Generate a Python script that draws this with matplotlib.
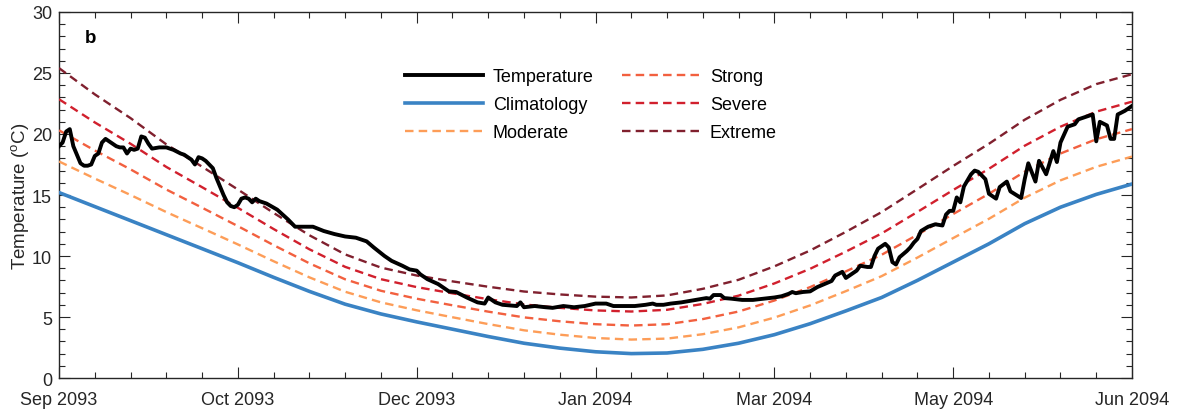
import numpy as np
import matplotlib
matplotlib.use("Agg")
import matplotlib.pyplot as plt
import matplotlib.dates as mdates
from matplotlib.ticker import MultipleLocator

plt.rcParams['font.family'] = ['Liberation Sans', 'DejaVu Sans']
plt.rcParams['mathtext.fontset'] = 'custom'
plt.rcParams['mathtext.rm'] = 'Liberation Sans'
plt.rcParams['mathtext.default'] = 'regular'

# daily series, days counted from 1 Sep 2093
start = np.datetime64('2093-09-01')

temp_day = [0, 1, 2, 3, 4, 5, 6, 7, 8, 9, 10, 11, 12, 13, 14, 15, 16, 17, 18, 19,
            20, 21, 22, 23, 24, 25, 26, 28, 30, 32, 34, 35, 36, 37, 38, 39, 40, 41,
            42, 43, 44, 45, 46, 47, 48, 49, 50, 51, 52, 53, 54, 55, 56, 58, 61, 64,
            66, 68, 71, 74, 77, 80, 83, 86, 88, 91, 93, 96, 98, 100, 101, 103, 106,
            109, 111, 114, 117, 119, 120, 122, 124, 128, 129, 130, 133, 136, 138,
            141, 144, 147, 150, 153, 155, 158, 161, 164, 166, 167, 169, 171, 174,
            178, 181, 182, 183, 185, 186, 188, 191, 194, 197, 200, 202, 204, 205,
            206, 208, 210, 212, 214, 216, 217, 219, 220, 221, 223, 224, 226, 227,
            228, 229, 231, 232, 233, 234, 235, 237, 238, 239, 240, 241, 243, 245,
            247, 248, 249, 250, 251, 252, 253, 255, 256, 257, 259, 260, 262, 263,
            265, 266, 269, 270, 271, 273, 274, 276, 278, 279, 280, 282, 284, 285,
            287, 289, 290, 291, 293, 294, 295, 296, 298, 300]
temp_val = [19.0, 19.3, 20.2, 20.4, 19.0, 18.3, 17.6, 17.4, 17.4, 17.5, 18.2, 18.4,
            19.3, 19.6, 19.4, 19.2, 19.0, 18.9, 18.9, 18.4, 18.8, 18.7, 18.8, 19.8,
            19.7, 19.2, 18.8, 18.9, 18.9, 18.7, 18.4, 18.3, 18.1, 17.9, 17.5, 18.1,
            18.0, 17.8, 17.5, 17.2, 16.4, 15.7, 15.0, 14.4, 14.1, 14.0, 14.2, 14.7,
            14.8, 14.7, 14.4, 14.7, 14.5, 14.3, 13.8, 13.0, 12.4, 12.4, 12.4, 12.05,
            11.8, 11.6, 11.5, 11.2, 10.7, 10.0, 9.6, 9.2, 8.9, 8.8, 8.5, 8.1, 7.7,
            7.1, 7.05, 6.6, 6.2, 6.1, 6.6, 6.2, 6.0, 5.9, 6.2, 5.8, 5.9, 5.8, 5.75,
            5.9, 5.8, 5.9, 6.1, 6.1, 5.9, 5.9, 5.9, 6.0, 6.1, 6.0, 6.0, 6.1, 6.2,
            6.4, 6.55, 6.5, 6.8, 6.8, 6.55, 6.5, 6.4, 6.4, 6.5, 6.6, 6.7, 6.9, 7.05,
            6.95, 7.05, 7.1, 7.45, 7.7, 7.95, 8.4, 8.7, 8.2, 8.4, 8.8, 9.2, 9.1, 9.1,
            10.0, 10.6, 11.0, 10.7, 9.5, 9.3, 9.9, 10.4, 10.7, 11.1, 11.4, 12.05,
            12.4, 12.6, 12.5, 13.4, 13.7, 13.7, 14.8, 14.4, 15.7, 16.7, 17.0, 16.9,
            16.3, 15.1, 14.7, 15.65, 16.1, 15.3, 14.75, 16.3, 17.6, 16.1, 17.8, 16.7,
            18.6, 17.7, 19.3, 20.6, 20.8, 21.2, 21.4, 21.6, 19.4, 21.0, 20.7, 19.6,
            19.6, 21.6, 21.9, 22.3]

# climatology and 90th percentile threshold every 10 days
clim_day = list(range(0, 301, 10))
clim_val = [15.2, 14.05, 12.9, 11.75, 10.6, 9.45, 8.25, 7.1, 6.05, 5.25, 4.6, 4.0,
            3.4, 2.85, 2.45, 2.15, 2.0, 2.05, 2.35, 2.85, 3.55, 4.45, 5.5, 6.6,
            8.0, 9.5, 11.0, 12.65, 14.0, 15.05, 15.9]
thresh_val = [17.75, 16.35, 15.0, 13.6, 12.28, 10.95, 9.57, 8.25, 7.07, 6.2, 5.55,
              4.98, 4.42, 3.91, 3.55, 3.28, 3.15, 3.23, 3.59, 4.15, 4.95, 5.95,
              7.12, 8.35, 9.87, 11.47, 13.05, 14.78, 16.2, 17.31, 18.15]

cat_names = ['Moderate', 'Strong', 'Severe', 'Extreme']
cat_colors = ['#fd9d58', '#f2603f', '#d1202d', '#80202e']

xtick_day = [0, 50, 100, 150, 200, 250, 300]

t_dates = start + np.array(temp_day).astype('timedelta64[D]')
c_dates = start + np.array(clim_day).astype('timedelta64[D]')
clim = np.array(clim_val)
diff = np.array(thresh_val) - clim

fig = plt.figure(figsize=(11.83, 4.10), dpi=100)
ax = fig.add_axes([0.0499, 0.0756, 0.907, 0.8927])

h_temp, = ax.plot(t_dates, temp_val, color='black', lw=2.8, label='Temperature', zorder=5)
h_clim, = ax.plot(c_dates, clim, color='#3a83c4', lw=2.6, label='Climatology', zorder=4)

# category lines: 1x, 2x, 3x, 4x the threshold-climatology difference
h_cat = []
for k, (name, col) in enumerate(zip(cat_names, cat_colors)):
    h, = ax.plot(c_dates, clim + (k + 1) * diff, color=col, lw=1.7,
                 dashes=(3.6, 2.2), label=name, zorder=3)
    h_cat.append(h)

ax.set_xlim(start, start + np.timedelta64(300, 'D'))
ax.set_ylim(0, 30)
ax.set_xticks(start + np.array(xtick_day).astype('timedelta64[D]'))
ax.xaxis.set_major_formatter(mdates.DateFormatter('%b %Y'))
minor = start + np.arange(0, 301, 10).astype('timedelta64[D]')
ax.set_xticks(minor, minor=True)
ax.yaxis.set_major_locator(MultipleLocator(5))
ax.yaxis.set_minor_locator(MultipleLocator(1))

axcol = '#262626'
ax.tick_params(which='both', direction='in', top=True, right=True,
               colors=axcol, labelsize=13, width=0.8)
ax.tick_params(which='major', length=8)
ax.tick_params(which='minor', length=4)
ax.tick_params(axis='x', which='major', pad=9)
ax.tick_params(axis='y', which='major', pad=5)
for s in ax.spines.values():
    s.set_color(axcol)
    s.set_linewidth(1.0)

ax.set_ylabel('Temperature ($^{o}$C)', fontsize=13.5, color=axcol, labelpad=1)
ax.text(0.024, 0.93, 'b', transform=ax.transAxes, fontsize=13.5,
        fontweight='bold', ha='left', va='center')

handles = [h_temp, h_clim, h_cat[0], h_cat[1], h_cat[2], h_cat[3]]
ax.legend(handles=handles, ncol=2, loc='upper left', bbox_to_anchor=(0.3227, 0.846),
          frameon=False, fontsize=13, handlelength=4.3, handletextpad=0.55,
          columnspacing=1.58, labelspacing=0.6, borderpad=0, borderaxespad=0)

fig.savefig('out.png', dpi=100)
